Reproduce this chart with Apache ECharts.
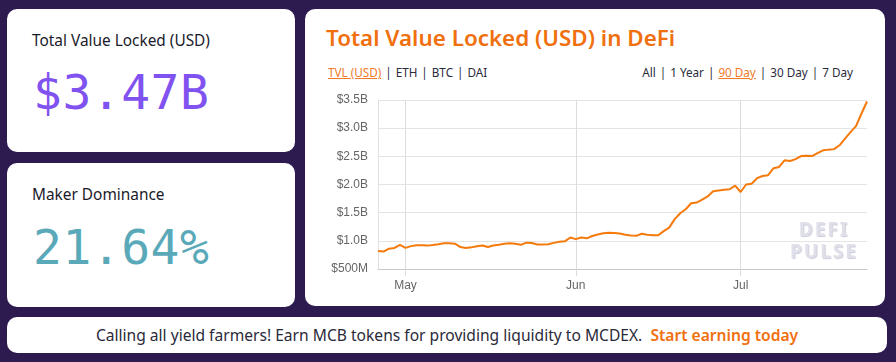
<!DOCTYPE html>
<html>
<head>
<meta charset="utf-8">
<script src="https://cdn.jsdelivr.net/npm/echarts@6.0.0/dist/echarts.min.js"></script>
<style>
  html, body { margin:0; padding:0; }
  body { width:896px; height:362px; overflow:hidden; position:relative; background:#2d1b4f; font-family:"Noto Sans", sans-serif; }
  .card { position:absolute; background:#fff; border-radius:10px; }
  .abs { position:absolute; white-space:nowrap; }
  .lbl { font-size:15.4px; color:#1a1a2a; line-height:20px; }
  .big { font-family:"DejaVu Sans Mono", monospace; font-size:48px; line-height:48px; letter-spacing:0.5px; }
  .links { font-size:11.7px; line-height:14px; color:#2a2a3a; }
  .links .on { color:#f07a2a; text-decoration:underline; }
  .links .sep { margin:0 4px; }
  .wm { font-weight:700; font-size:19px; line-height:22px; letter-spacing:2px; color:#e0e0ea; text-shadow:1px 1px 1px #cdcdda; text-align:center; }
</style>
</head>
<body>
<div class="card" style="left:7px;top:9px;width:288px;height:143px;"></div>
<div class="abs lbl" style="left:32px;top:31px;">Total Value Locked (USD)</div>
<div class="abs big" style="left:33px;top:68px;color:#8052f0;">$3.47B</div>

<div class="card" style="left:7px;top:163px;width:288px;height:144px;"></div>
<div class="abs lbl" style="left:32px;top:185px;">Maker Dominance</div>
<div class="abs big" style="left:33px;top:223px;color:#5aa9b9;">21.64%</div>

<div class="card" style="left:305px;top:9px;width:580px;height:297px;"></div>
<div class="abs" style="left:326px;top:25px;font-size:22.4px;line-height:26px;font-weight:600;color:#f0700f;">Total Value Locked (USD) in DeFi</div>
<div class="abs links" style="left:328px;top:65px;"><span class="on">TVL (USD)</span><span class="sep">|</span>ETH<span class="sep">|</span>BTC<span class="sep">|</span>DAI</div>
<div class="abs links" style="right:43px;top:65px;">All<span class="sep">|</span>1 Year<span class="sep">|</span><span class="on">90 Day</span><span class="sep">|</span>30 Day<span class="sep">|</span>7 Day</div>

<div id="chart" style="position:absolute;left:305px;top:9px;width:580px;height:297px;"></div>
<div class="abs wm" style="left:788px;top:218px;width:72px;">DEFI<br>PULSE</div>

<div class="card" style="left:7px;top:317px;width:880px;height:36px;"></div>
<div class="abs" style="left:7px;top:317px;width:880px;height:36px;line-height:36px;text-align:center;font-size:15.6px;color:#2a2a3a;">Calling all yield farmers! Earn MCB tokens for providing liquidity to MCDEX.&nbsp; <span style="color:#f0700f;font-weight:600;">Start earning today</span></div>

<script>
// Daily TVL in billions USD, starting 2020-04-26 (90 days)
const startDate = '2020-04-26';
const tvlBillions = [
  0.819, 0.810, 0.861, 0.874, 0.929, 0.875, 0.906, 0.923, 0.920, 0.915,
  0.925, 0.938, 0.956, 0.959, 0.950, 0.890, 0.874, 0.884, 0.902, 0.916,
  0.890, 0.916, 0.932, 0.950, 0.956, 0.950, 0.929, 0.968, 0.961, 0.934,
  0.934, 0.938, 0.964, 0.982, 0.991, 1.059, 1.030, 1.059, 1.044, 1.085,
  1.112, 1.133, 1.142, 1.141, 1.130, 1.107, 1.093, 1.089, 1.125, 1.107,
  1.101, 1.098, 1.173, 1.235, 1.386, 1.489, 1.560, 1.667, 1.680, 1.730,
  1.788, 1.881, 1.895, 1.906, 1.916, 1.979, 1.867, 2.000, 2.014, 2.112,
  2.151, 2.165, 2.290, 2.311, 2.429, 2.418, 2.450, 2.504, 2.509, 2.504,
  2.557, 2.607, 2.619, 2.628, 2.696, 2.815, 2.931, 3.037, 3.260, 3.473
];
const monthNames = ['Jan','Feb','Mar','Apr','May','Jun','Jul','Aug','Sep','Oct','Nov','Dec'];
const yMin = 0.5, yMax = 3.5, yStep = 0.5;

const dates = [];
{
  const d0 = new Date(startDate + 'T00:00:00Z');
  for (let i = 0; i < tvlBillions.length; i++) {
    const d = new Date(d0.getTime() + i * 86400000);
    dates.push(d.toISOString().slice(0, 10));
  }
}
const isMonthStart = (idx) => dates[idx] && dates[idx].slice(8, 10) === '01';

const chart = echarts.init(document.getElementById('chart'), null, { renderer: 'canvas' });
chart.setOption({
  animation: false,
  grid: { left: 73, right: 18, top: 91, bottom: 37, containLabel: false, outerBoundsMode: 'none' },
  xAxis: {
    type: 'category',
    data: dates,
    boundaryGap: false,
    axisLine: { show: true, lineStyle: { color: '#c8c8c8', width: 1 } },
    axisTick: { show: true, length: 7, interval: (i) => isMonthStart(i), lineStyle: { color: '#dcdcdc' } },
    splitLine: { show: true, interval: (i) => isMonthStart(i), lineStyle: { color: '#dcdcdc', width: 1 } },
    axisLabel: {
      interval: (i) => isMonthStart(i),
      formatter: (v) => monthNames[parseInt(v.slice(5, 7), 10) - 1],
      color: '#666', fontSize: 12, fontFamily: 'Liberation Sans, Arial, sans-serif', margin: 11
    }
  },
  yAxis: {
    type: 'value',
    min: yMin, max: yMax, interval: yStep,
    axisLine: { show: true, lineStyle: { color: '#e0e0e0' } },
    axisTick: { show: false },
    splitLine: { show: true, lineStyle: { color: '#e4e4e4', width: 1 } },
    axisLabel: {
      formatter: (v) => v < 1 ? '$' + Math.round(v * 1000) + 'M' : '$' + v.toFixed(1) + 'B',
      color: '#666', fontSize: 12, fontFamily: 'Liberation Sans, Arial, sans-serif', margin: 10
    }
  },
  series: [{
    type: 'line',
    data: tvlBillions,
    showSymbol: false,
    symbol: 'none',
    lineStyle: { color: '#f57a0c', width: 2 },
    smooth: false
  }]
});
</script>
</body>
</html>
